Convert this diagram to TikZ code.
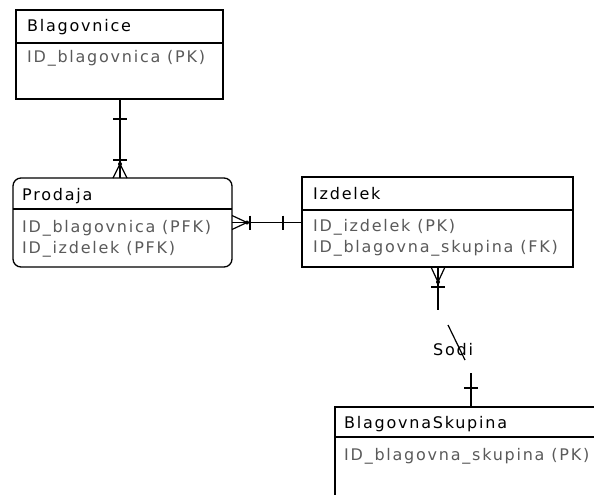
\documentclass[tikz,border=0pt]{standalone}
\usepackage{fontspec}
\usetikzlibrary{calc}
\newfontfamily\erfont[LetterSpace=11]{DejaVu Sans}
\definecolor{attrgray}{RGB}{90,90,90}
\begin{document}
\begin{tikzpicture}[x=1pt,y=-1pt,
  ent/.style={draw, line width=1.3pt, inner sep=0pt, outer sep=0pt, anchor=north west},
  hdr/.style={anchor=base west, inner sep=0pt, font=\fontsize{16}{18}\erfont, text=black},
  attr/.style={anchor=base west, inner sep=0pt, font=\fontsize{16}{18}\erfont, text=attrgray},
  conn/.style={line width=1.2pt},
  sep/.style={line width=1.3pt},
  dotc/.style={fill=black}
]
\useasboundingbox (0,0) rectangle (594,495);
\clip (0,0) rectangle (594,495);

% Entities
\node[ent, minimum width=207pt, minimum height=89pt] (blag) at (16,10) {};
\node[ent, rounded corners=8pt, minimum width=219pt, minimum height=89pt] (prod) at (13,178) {};
\node[ent, minimum width=271pt, minimum height=90pt] (izd) at (302,177) {};
\node[ent, minimum width=300pt, minimum height=150pt] (bsk) at (335,407) {};

% separators
\draw[sep] ($(blag.north west)+(0,33)$) -- ($(blag.north east)+(0,33)$);
\draw[sep] ($(prod.north west)+(0,31)$) -- ($(prod.north east)+(0,31)$);
\draw[sep] ($(izd.north west)+(0,33)$) -- ($(izd.north east)+(0,33)$);
\draw[sep] ($(bsk.north west)+(0,30)$) -- ($(bsk.north east)+(0,30)$);

% texts
\node[hdr] (tb) at ($(blag.north west)+(11,22)$) {Blagovnice};
\node[attr] (tb1) at ($(blag.north west)+(11,53)$) {ID\_blagovnica (PK)};

\node[hdr] (tp) at ($(prod.north west)+(9,22)$) {Prodaja};
\node[attr] (tp1) at ($(prod.north west)+(9,54)$) {ID\_blagovnica (PFK)};
\node[attr] (tp2) at ($(prod.north west)+(9,75)$) {ID\_izdelek (PFK)};

\node[hdr] (ti) at ($(izd.north west)+(11,22)$) {Izdelek};
\node[attr] (ti1) at ($(izd.north west)+(11,54)$) {ID\_izdelek (PK)};
\node[attr] (ti2) at ($(izd.north west)+(11,75)$) {ID\_blagovna\_skupina (FK)};

\node[hdr] (ts) at ($(bsk.north west)+(9,21)$) {BlagovnaSkupina};
\node[attr] (ts1) at ($(bsk.north west)+(9,53)$) {ID\_blagovna\_skupina (PK)};

% Connector 1: Blagovnice -> Prodaja
\coordinate (r1a) at ($(blag.south west)+(104,0)$);
\coordinate (r1b) at ($(prod.north west)+(107,0)$);
\draw[conn] (r1a) -- (r1b);
\draw[conn] ($(r1a)+(-7,20)$) -- ($(r1a)+(7,20)$);
\draw[conn] ($(r1b)+(-7,-18)$) -- ($(r1b)+(7,-18)$);
\draw[conn] ($(r1b)+(-7,0)$) -- ($(r1b)+(0,-14)$) -- ($(r1b)+(7,0)$);
\fill[dotc] ($(r1b)+(0,-14)$) circle (2pt);

% Connector 2: Prodaja -> Izdelek
\coordinate (r2a) at (prod.east);
\coordinate (r2b) at (prod.east -| izd.west);
\draw[conn] (r2a) -- (r2b);
\draw[conn] ($(r2a)+(0,-7)$) -- ($(r2a)+(15,0)$) -- ($(r2a)+(0,7)$);
\fill[dotc] ($(r2a)+(15,0)$) circle (2pt);
\draw[conn] ($(r2a)+(18,-7)$) -- ($(r2a)+(18,7)$);
\draw[conn] ($(r2b)+(-19,-7)$) -- ($(r2b)+(-19,7)$);

% Connector 3: Izdelek -> BlagovnaSkupina (Sodi)
\coordinate (r3a) at ($(izd.south west)+(136,0)$);
\coordinate (r3b) at ($(bsk.north west)+(136,0)$);
\coordinate (r3c) at ($(r3a)+(0,43)$);
\coordinate (r3d) at ($(r3a)+(10,58)$);
\coordinate (r3e) at ($(r3a)+(27,93)$);
\coordinate (r3f) at ($(r3b)+(0,-34)$);
\draw[conn] (r3a) -- (r3c);
\draw[conn] (r3d) -- (r3e);
\draw[conn] (r3f) -- (r3b);
\draw[conn] ($(r3a)+(-7,0)$) -- ($(r3a)+(0,15)$) -- ($(r3a)+(7,0)$);
\fill[dotc] ($(r3a)+(0,15)$) circle (2pt);
\draw[conn] ($(r3a)+(-7,20)$) -- ($(r3a)+(7,20)$);
\draw[conn] ($(r3b)+(-7,-19)$) -- ($(r3b)+(7,-19)$);
\node[hdr] (sodi) at (433,355) {Sodi};
\end{tikzpicture}
\end{document}
